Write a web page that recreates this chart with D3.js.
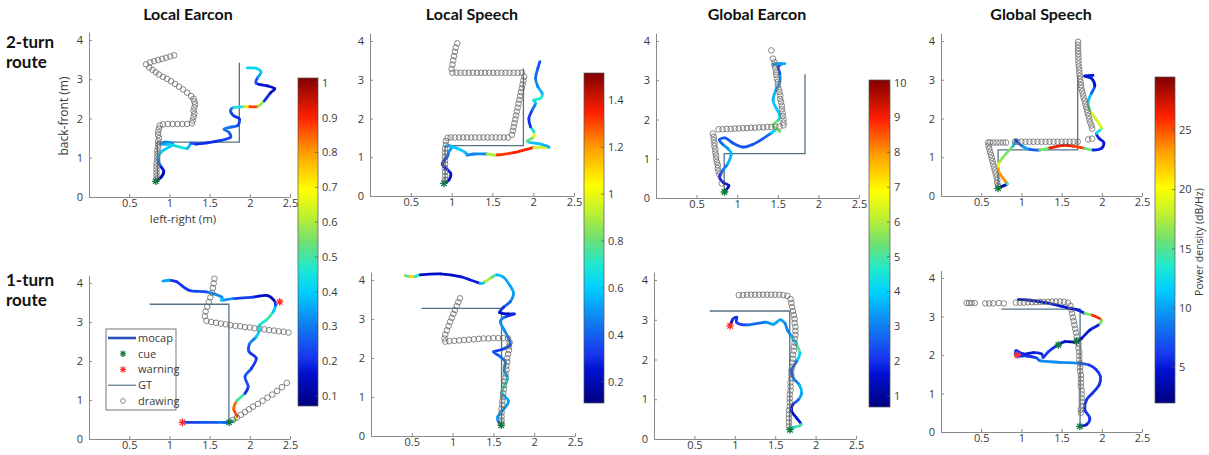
<!DOCTYPE html>
<html>
<head>
<meta charset="utf-8">
<script src="https://cdn.jsdelivr.net/npm/d3@7"></script>
<style>
  body { margin: 0; background: #fff; }
  text { font-family: "Open Sans", "Liberation Sans", sans-serif; }
</style>
</head>
<body>
<svg id="chart" width="1209" height="455"></svg>
<script>
// ---- labels / ticks ----
const titles = ["Local Earcon", "Local Speech", "Global Earcon", "Global Speech"];
const rowLabels = [["2-turn", "route"], ["1-turn", "route"]];
const xTicks = [0.5, 1, 1.5, 2, 2.5];
const yTicks = [0, 1, 2, 3, 4];
const cbTicks = [
  [0.1, 0.2, 0.3, 0.4, 0.5, 0.6, 0.7, 0.8, 0.9, 1],
  [0.2, 0.4, 0.6, 0.8, 1, 1.2, 1.4],
  [1, 2, 3, 4, 5, 6, 7, 8, 9, 10],
  [5, 10, 15, 20, 25]
];
const cbDomains = [[0.072, 1.014], [0.109, 1.517], [0.684, 10.078], [2.0, 29.49]];
const legendLabels = ["mocap", "cue", "warning", "GT", "drawing"];

// ---- 2-turn route, Local Earcon ----  mocap: [x, y, value]
const le2Mocap = [[0.83,0.40,0.1],[0.90,0.51,0.1],[0.93,0.66,0.15],[0.88,0.82,0.2],[0.86,1.01,0.38],[0.91,1.17,0.4],[1.01,1.29,0.4],[1.04,1.37,0.35],[0.95,1.40,0.3],[0.89,1.35,0.3],[0.975,1.34,0.38],[1.10,1.29,0.45],[1.22,1.24,0.45],[1.27,1.37,0.3],[1.33,1.35,0.2],[1.47,1.38,0.2],[1.64,1.44,0.2],[1.76,1.52,0.25],[1.74,1.65,0.25],[1.68,1.73,0.3],[1.76,1.78,0.3],[1.85,1.82,0.25],[1.87,1.99,0.2],[1.80,2.07,0.2],[1.76,2.20,0.25],[1.80,2.28,0.3],[1.93,2.30,0.6],[2.00,2.30,0.85],[2.10,2.31,0.9],[2.18,2.45,0.25],[2.26,2.66,0.15],[2.31,2.76,0.15],[2.22,2.83,0.15],[2.08,2.90,0.2],[2.10,3.05,0.3],[2.14,3.18,0.4],[2.08,3.28,0.42],[1.97,3.29,0.42]];
const le2Drawing = [[1.06,3.61],[1.01,3.58],[0.96,3.55],[0.91,3.52],[0.86,3.49],[0.81,3.46],[0.76,3.43],[0.71,3.38],[0.75,3.30],[0.79,3.24],[0.83,3.18],[0.87,3.12],[0.92,3.06],[0.97,3.01],[1.02,2.95],[1.07,2.88],[1.12,2.81],[1.17,2.74],[1.22,2.66],[1.27,2.57],[1.30,2.50],[1.31,2.43],[1.32,2.36],[1.31,2.28],[1.30,2.20],[1.31,2.12],[1.30,2.04],[1.29,1.95],[1.28,1.88],[1.22,1.86],[1.16,1.86],[1.10,1.86],[1.04,1.86],[0.98,1.86],[0.92,1.85],[0.88,1.82],[0.87,1.74],[0.86,1.66],[0.86,1.58],[0.87,1.50],[0.86,1.42],[0.86,1.34],[0.86,1.26],[0.85,1.18],[0.85,1.10],[0.85,1.02],[0.85,0.94],[0.84,0.86],[0.84,0.78],[0.84,0.70],[0.84,0.62],[0.84,0.54],[0.84,0.46]];
const le2GT = [[0.85,0.40],[0.85,1.40],[1.87,1.40],[1.87,3.42]];
const le2Cue = [[0.83,0.40]];
const le2Warn = [];

// ---- 2-turn route, Local Speech ----
const ls2Mocap = [[0.906,0.327,0.15],[0.967,0.413,0.2],[0.988,0.585,0.25],[0.906,0.757,0.3],[0.886,0.843,0.3],[0.947,1.015,0.35],[0.967,1.144,0.45],[1.008,1.273,0.55],[0.947,1.299,0.55],[1.069,1.230,0.6],[1.171,1.118,0.6],[1.192,1.058,0.5],[1.273,1.084,0.45],[1.437,1.084,0.5],[1.559,1.058,1.3],[1.763,1.118,1.35],[2.008,1.247,1.35],[2.192,1.256,0.55],[2.090,1.342,0.55],[1.927,1.402,0.6],[2.008,1.531,1.0],[2.008,1.660,1.0],[1.967,1.789,0.3],[1.947,2.004,0.3],[1.988,2.219,0.35],[2.029,2.391,0.55],[2.008,2.477,0.6],[2.090,2.520,0.8],[2.110,2.650,0.6],[2.057,2.822,0.5],[2.029,3.037,0.45],[2.057,3.295,0.4],[2.082,3.467,0.35]];
const ls2Drawing = [[1.07,3.94],[1.05,3.83],[1.04,3.72],[1.03,3.61],[1.02,3.50],[1.01,3.39],[1.00,3.28],[1.01,3.18],[1.06,3.18],[1.11,3.18],[1.16,3.18],[1.21,3.18],[1.26,3.18],[1.31,3.18],[1.36,3.18],[1.41,3.18],[1.46,3.18],[1.51,3.18],[1.56,3.18],[1.61,3.18],[1.66,3.18],[1.71,3.18],[1.76,3.18],[1.81,3.18],[1.86,3.18],[1.89,3.08],[1.88,2.98],[1.87,2.88],[1.86,2.78],[1.85,2.68],[1.84,2.58],[1.83,2.48],[1.82,2.38],[1.81,2.28],[1.80,2.18],[1.79,2.08],[1.78,1.98],[1.77,1.88],[1.76,1.78],[1.75,1.68],[1.74,1.58],[1.69,1.51],[1.64,1.51],[1.59,1.51],[1.54,1.51],[1.49,1.51],[1.44,1.51],[1.39,1.51],[1.34,1.51],[1.29,1.51],[1.24,1.51],[1.19,1.51],[1.14,1.51],[1.09,1.51],[1.04,1.51],[0.99,1.51],[0.95,1.50],[0.93,1.42],[0.93,1.32],[0.92,1.22],[0.92,1.12],[0.92,1.02],[0.92,0.92],[0.92,0.82],[0.92,0.72],[0.92,0.62],[0.92,0.52],[0.92,0.42]];
const ls2GT = [[0.92,0.33],[0.92,1.30],[1.88,1.30],[1.88,3.29]];
const ls2Cue = [[0.906,0.327]];
const ls2Warn = [];

// ---- 2-turn route, Global Earcon ----
const ge2Mocap = [[0.843,0.153,1.2],[0.897,0.314,1.5],[0.831,0.391,2.0],[0.781,0.535,1.5],[0.822,0.705,2.5],[0.884,0.875,3.5],[0.926,1.130,3.8],[0.884,1.257,3.5],[0.822,1.367,3.0],[0.781,1.486,2.5],[0.855,1.529,2.5],[0.946,1.401,2.5],[1.070,1.299,2.5],[1.194,1.367,2.5],[1.318,1.512,2.5],[1.421,1.656,3.0],[1.483,1.741,5.0],[1.525,1.699,5.0],[1.442,1.851,6.0],[1.504,1.979,5.0],[1.525,2.106,4.0],[1.483,2.276,4.0],[1.442,2.488,3.8],[1.475,2.743,3.5],[1.525,2.955,3.5],[1.525,3.168,3.0],[1.504,3.338,2.0],[1.545,3.423,2.0],[1.442,3.406,3.5],[1.587,3.423,3.5]];
const ge2Drawing = [[1.42,3.76],[1.44,3.55],[1.46,3.46],[1.46,3.38],[1.47,3.30],[1.48,3.21],[1.48,3.13],[1.49,3.04],[1.50,2.96],[1.50,2.87],[1.51,2.78],[1.52,2.70],[1.53,2.61],[1.53,2.52],[1.54,2.44],[1.55,2.35],[1.55,2.26],[1.56,2.18],[1.56,2.09],[1.57,2.00],[1.57,1.92],[1.57,1.85],[1.52,1.82],[1.47,1.82],[1.42,1.81],[1.37,1.81],[1.32,1.80],[1.27,1.80],[1.22,1.79],[1.17,1.79],[1.12,1.78],[1.07,1.78],[1.02,1.77],[0.97,1.77],[0.92,1.76],[0.87,1.76],[0.82,1.75],[0.77,1.75],[0.70,1.64],[0.71,1.56],[0.71,1.48],[0.72,1.40],[0.72,1.32],[0.73,1.24],[0.73,1.16],[0.74,1.08],[0.74,1.00],[0.75,0.92],[0.76,0.84],[0.76,0.76],[0.77,0.68],[0.78,0.60],[0.81,0.37]];
const ge2GT = [[0.84,0.15],[0.84,1.13],[1.835,1.13],[1.835,3.15]];
const ge2Cue = [[0.843,0.153]];
const ge2Warn = [];

// ---- 2-turn route, Global Speech ----
const gs2Mocap = [[0.710,0.198,3],[0.751,0.241,3],[0.822,0.310,5],[0.805,0.370,23],[0.730,0.585,24],[0.710,0.757,22],[0.730,0.886,17],[0.813,1.101,16],[0.896,1.290,16],[0.929,1.445,6],[0.959,1.376,5],[1.021,1.273,11],[1.104,1.204,9],[1.228,1.187,6],[1.353,1.239,26],[1.519,1.308,27],[1.643,1.290,26],[1.788,1.230,25],[1.892,1.187,6],[1.996,1.230,5],[2.025,1.376,5],[1.967,1.488,5],[1.934,1.617,6],[1.996,1.746,19],[1.934,1.961,19],[1.851,2.219,18],[1.830,2.434,12],[1.871,2.650,10],[1.913,2.839,5],[1.871,3.037,5],[1.788,3.097,5],[1.892,3.114,5]];
const gs2Drawing = [[1.705,3.98],[1.705,3.90],[1.705,3.82],[1.705,3.74],[1.708,3.66],[1.71,3.58],[1.71,3.50],[1.71,3.42],[1.715,3.34],[1.72,3.26],[1.72,3.18],[1.725,3.10],[1.73,3.02],[1.735,2.94],[1.74,2.86],[1.745,2.78],[1.755,2.70],[1.765,2.62],[1.775,2.54],[1.785,2.46],[1.795,2.38],[1.805,2.30],[1.815,2.22],[1.825,2.14],[1.835,2.06],[1.845,1.98],[1.855,1.90],[1.87,1.82],[1.88,1.74],[1.83,1.46],[1.88,1.48],[1.70,1.40],[1.65,1.40],[1.60,1.40],[1.55,1.40],[1.50,1.40],[1.45,1.40],[1.40,1.40],[1.35,1.40],[1.30,1.40],[1.25,1.40],[1.20,1.40],[1.15,1.40],[1.10,1.40],[1.05,1.40],[1.00,1.40],[0.95,1.40],[0.92,1.40],[0.81,1.38],[0.77,1.38],[0.73,1.38],[0.69,1.38],[0.65,1.38],[0.61,1.38],[0.585,1.38],[0.59,1.30],[0.60,1.22],[0.61,1.14],[0.62,1.06],[0.63,0.98],[0.64,0.90],[0.65,0.82],[0.66,0.74],[0.67,0.66],[0.68,0.58],[0.69,0.50],[0.70,0.42],[0.70,0.34],[0.71,0.26]];
const gs2GT = [[0.71,0.20],[0.71,1.19],[1.70,1.19],[1.70,3.10]];
const gs2Cue = [[0.71,0.198]];
const gs2Warn = [];

// ---- 1-turn route, Local Earcon ----
const le1Mocap = [[1.162,0.426,0.2],[1.378,0.426,0.25],[1.585,0.426,0.25],[1.743,0.426,0.3],[1.813,0.477,0.35],[1.842,0.579,0.85],[1.80,0.77,0.88],[1.84,0.98,0.8],[1.94,1.17,0.2],[1.98,1.35,0.2],[1.94,1.60,0.28],[2.02,1.81,0.22],[2.08,2.07,0.2],[1.99,2.24,0.2],[2.00,2.45,0.28],[2.08,2.62,0.35],[2.12,2.79,0.45],[2.12,2.92,0.42],[2.21,3.06,0.5],[2.29,3.26,0.48],[2.32,3.43,0.3],[2.30,3.56,0.15],[2.21,3.68,0.12],[2.04,3.64,0.2],[1.79,3.60,0.25],[1.65,3.56,0.4],[1.65,3.64,0.38],[1.46,3.77,0.25],[1.25,3.81,0.22],[1.09,4.03,0.2],[1.00,4.07,0.2],[0.92,4.05,0.5]];
const le1Drawing = [[1.79,0.49],[1.84,0.55],[1.89,0.62],[1.94,0.69],[1.99,0.76],[2.04,0.83],[2.10,0.90],[2.16,0.98],[2.22,1.06],[2.28,1.14],[2.34,1.23],[2.40,1.33],[2.46,1.44],[2.48,2.73],[2.42,2.75],[2.36,2.76],[2.30,2.78],[2.24,2.79],[2.18,2.81],[2.12,2.83],[2.06,2.84],[2.00,2.86],[1.94,2.87],[1.88,2.89],[1.82,2.90],[1.76,2.92],[1.70,2.94],[1.64,2.96],[1.58,2.98],[1.52,3.00],[1.46,3.03],[1.44,3.15],[1.45,3.27],[1.47,3.39],[1.49,3.51],[1.51,3.63],[1.53,3.75],[1.54,3.87],[1.55,3.99],[1.56,4.11]];
const le1GT = [[1.74,0.43],[1.74,3.455],[0.755,3.455]];
const le1Cue = [[1.743,0.426]];
const le1Warn = [[1.162,0.426],[2.373,3.515]];

// ---- 1-turn route, Local Speech ----
const ls1Mocap = [[0.420,4.113,0.5],[0.482,4.087,1.1],[0.543,4.087,1.1],[0.604,4.130,0.25],[0.849,4.156,0.2],[1.094,4.087,0.25],[1.339,3.916,0.3],[1.400,3.959,0.85],[1.482,4.070,0.95],[1.543,4.130,0.55],[1.624,4.070,0.55],[1.698,3.873,0.5],[1.747,3.659,0.55],[1.706,3.445,0.45],[1.624,3.299,0.35],[1.576,3.162,0.25],[1.686,3.128,0.25],[1.755,3.128,0.2],[1.633,3.042,0.4],[1.584,2.931,0.5],[1.633,2.716,0.5],[1.686,2.502,0.45],[1.706,2.331,0.4],[1.604,2.219,0.3],[1.502,2.159,0.35],[1.576,2.048,0.4],[1.645,1.902,0.45],[1.633,1.688,0.5],[1.673,1.474,0.55],[1.633,1.302,0.85],[1.604,1.088,0.6],[1.686,0.900,0.5],[1.633,0.703,0.5],[1.551,0.488,0.5],[1.563,0.360,0.55],[1.596,0.274,0.3]];
const ls1Drawing = [[1.09,3.53],[1.07,3.43],[1.05,3.33],[1.03,3.23],[1.01,3.13],[0.99,3.03],[0.97,2.93],[0.95,2.82],[0.93,2.71],[0.91,2.60],[0.90,2.50],[0.91,2.42],[0.96,2.43],[1.02,2.44],[1.08,2.45],[1.14,2.46],[1.20,2.47],[1.26,2.48],[1.32,2.49],[1.38,2.50],[1.44,2.50],[1.50,2.51],[1.56,2.51],[1.62,2.51],[1.68,2.50],[1.70,2.40],[1.69,2.30],[1.69,2.20],[1.68,2.10],[1.67,2.00],[1.67,1.90],[1.66,1.80],[1.66,1.70],[1.65,1.60],[1.65,1.50],[1.64,1.40],[1.63,1.30],[1.63,1.20],[1.62,1.10],[1.62,1.00],[1.61,0.90],[1.61,0.80],[1.60,0.70],[1.60,0.60],[1.60,0.50],[1.60,0.40],[1.60,0.32]];
const ls1GT = [[1.60,0.27],[1.60,3.27],[0.62,3.27]];
const ls1Cue = [[1.596,0.274]];
const ls1Warn = [];

// ---- 1-turn route, Global Earcon ----
const ge1Mocap = [[0.942,2.845,1.5],[0.975,3.013,2],[1.025,3.063,2],[1.025,2.929,2],[1.148,2.870,2.5],[1.374,2.937,3],[1.477,2.887,3.5],[1.560,2.996,3.5],[1.621,2.912,3.2],[1.650,2.745,3],[1.704,2.577,3],[1.765,2.368,5],[1.807,2.159,5],[1.765,1.950,3],[1.704,1.741,2.5],[1.724,1.531,2.5],[1.798,1.364,3.5],[1.827,1.155,3.8],[1.786,0.987,3],[1.716,0.862,2],[1.704,0.695,1.2],[1.765,0.527,1.5],[1.819,0.360,2],[1.745,0.301,8],[1.683,0.234,1]];
const ge1Drawing = [[1.05,3.62],[1.10,3.62],[1.15,3.63],[1.20,3.63],[1.25,3.63],[1.30,3.63],[1.35,3.63],[1.40,3.63],[1.45,3.63],[1.50,3.63],[1.55,3.63],[1.60,3.62],[1.65,3.60],[1.69,3.52],[1.70,3.42],[1.71,3.32],[1.72,3.22],[1.73,3.12],[1.74,3.02],[1.74,2.92],[1.75,2.82],[1.75,2.72],[1.75,2.62],[1.74,2.52],[1.74,2.42],[1.73,2.32],[1.73,2.22],[1.72,2.12],[1.72,2.02],[1.71,1.92],[1.71,1.82],[1.70,1.72],[1.70,1.62],[1.70,1.52],[1.69,1.42],[1.69,1.32],[1.69,1.22],[1.68,1.12],[1.68,1.02],[1.68,0.92],[1.68,0.82],[1.67,0.72],[1.67,0.62],[1.67,0.52],[1.67,0.42],[1.67,0.32]];
const ge1GT = [[1.68,0.23],[1.68,3.22],[0.69,3.22]];
const ge1Cue = [[1.683,0.234]];
const ge1Warn = [[0.942,2.845]];

// ---- 1-turn route, Global Speech ----
const gs1Mocap = [[0.963,3.440,3.5],[1.107,3.422,5],[1.314,3.353,5],[1.562,3.233,5],[1.707,3.164,5],[1.789,3.078,6],[1.884,3.034,26],[1.996,2.905,26],[1.955,2.776,6],[1.851,2.647,5],[1.748,2.431,5],[1.686,2.336,3],[1.541,2.345,4],[1.438,2.241,6],[1.335,2.086,6],[1.273,1.940,6],[1.252,2.026,6],[1.149,2.060,5],[1.025,2.026,5],[0.934,2.112,6],[0.942,1.974,6],[1.066,1.974,6],[1.190,1.922,6],[1.240,1.845,9],[1.479,1.810,9.5],[1.727,1.784,9],[1.843,1.741,6],[1.926,1.629,6],[1.983,1.440,6],[1.967,1.224,6],[1.884,1.009,6],[1.810,0.836,6],[1.789,0.578,6],[1.851,0.362,6],[1.810,0.190,6],[1.727,0.147,4]];
const gs1Drawing = [[0.32,3.35],[0.35,3.35],[0.38,3.35],[0.42,3.35],[0.55,3.34],[0.60,3.34],[0.65,3.34],[0.72,3.35],[0.78,3.34],[0.93,3.36],[0.98,3.36],[1.03,3.36],[1.08,3.37],[1.13,3.37],[1.18,3.37],[1.23,3.38],[1.28,3.38],[1.33,3.38],[1.38,3.39],[1.43,3.39],[1.48,3.39],[1.53,3.38],[1.58,3.36],[1.61,3.28],[1.62,3.18],[1.63,3.08],[1.64,2.98],[1.65,2.88],[1.66,2.78],[1.67,2.68],[1.68,2.58],[1.69,2.48],[1.70,2.38],[1.71,2.28],[1.71,2.18],[1.72,2.08],[1.72,1.98],[1.72,1.88],[1.73,1.78],[1.73,1.68],[1.73,1.58],[1.74,1.48],[1.74,1.38],[1.74,1.28],[1.74,1.18],[1.75,1.08],[1.75,0.98],[1.75,0.88],[1.75,0.78],[1.75,0.68],[1.74,0.58],[1.74,0.50]];
const gs1GT = [[1.73,0.15],[1.73,3.19],[0.75,3.19]];
const gs1Cue = [[1.727,0.147],[1.686,2.36],[1.459,2.259]];
const gs1Warn = [[0.95,2.0]];

// ---- layout (pixels) ----
const panelBoxes = [
  {x0: 89,  x1: 290, y0: 197, y4: 40},
  {x0: 370, x1: 574, y0: 196, y4: 41},
  {x0: 656, x1: 859, y0: 198, y4: 41},
  {x0: 941, x1: 1142, y0: 196, y4: 41},
  {x0: 89,  x1: 290, y0: 439, y4: 283},
  {x0: 371, x1: 575, y0: 436, y4: 280},
  {x0: 654, x1: 856, y0: 439, y4: 280},
  {x0: 941, x1: 1142, y0: 432, y4: 278}
];
const cbBoxes = [
  {x: 298, w: 20, top: 78, bottom: 406},
  {x: 584, w: 20, top: 73, bottom: 403},
  {x: 869, w: 21, top: 80, bottom: 407},
  {x: 1155, w: 20, top: 77, bottom: 403}
];
const titleX = [188, 472, 757, 1041];

const panels = [
  {col: 0, row: 0, mocap: le2Mocap, drawing: le2Drawing, gt: le2GT, cue: le2Cue, warn: le2Warn},
  {col: 1, row: 0, mocap: ls2Mocap, drawing: ls2Drawing, gt: ls2GT, cue: ls2Cue, warn: ls2Warn},
  {col: 2, row: 0, mocap: ge2Mocap, drawing: ge2Drawing, gt: ge2GT, cue: ge2Cue, warn: ge2Warn},
  {col: 3, row: 0, mocap: gs2Mocap, drawing: gs2Drawing, gt: gs2GT, cue: gs2Cue, warn: gs2Warn},
  {col: 0, row: 1, mocap: le1Mocap, drawing: le1Drawing, gt: le1GT, cue: le1Cue, warn: le1Warn},
  {col: 1, row: 1, mocap: ls1Mocap, drawing: ls1Drawing, gt: ls1GT, cue: ls1Cue, warn: ls1Warn},
  {col: 2, row: 1, mocap: ge1Mocap, drawing: ge1Drawing, gt: ge1GT, cue: ge1Cue, warn: ge1Warn},
  {col: 3, row: 1, mocap: gs1Mocap, drawing: gs1Drawing, gt: gs1GT, cue: gs1Cue, warn: gs1Warn}
];

// jet-like colormap
const cmapPos = [0, 0.1, 0.15, 0.25, 0.35, 0.42, 0.5, 0.58, 0.66, 0.77, 0.88, 1];
const cmapCol = ["#000080", "#0010d0", "#1838f0", "#1080f0", "#00d0ff", "#20e8d0", "#70e070", "#c0f030", "#ffff00", "#ffa000", "#ff2000", "#800000"];
const cmap = d3.scaleLinear().domain(cmapPos).range(cmapCol).clamp(true);

const axisGrey = "#8a8a8a";
const textGrey = "#3a3a3a";
const gtColor = "#557388";

const svg = d3.select("#chart");
const defs = svg.append("defs");

function star(s) {
  const k = s * 0.72;
  return `M${-s},0H${s}M0,${-s}V${s}M${-k},${-k}L${k},${k}M${-k},${k}L${k},${-k}`;
}

// titles and row labels
svg.selectAll(".title").data(titles).join("text")
  .attr("x", (d, i) => titleX[i]).attr("y", 20)
  .attr("text-anchor", "middle")
  .style("font-family", "Lato, 'Open Sans', sans-serif")
  .style("font-weight", "700").style("font-size", "16px").attr("fill", "#111")
  .text(d => d);

rowLabels.forEach((lab, r) => {
  const base = r === 0 ? 48 : 286;
  lab.forEach((t, j) => {
    svg.append("text").attr("x", 6).attr("y", base + j * 20)
      .style("font-family", "Lato, 'Open Sans', sans-serif")
      .style("font-weight", "700").style("font-size", "17px").attr("fill", "#111")
      .text(t);
  });
});

// panels
panels.forEach((p, idx) => {
  const b = panelBoxes[idx];
  const unit = (b.y0 - b.y4) / 4;
  const x = d3.scaleLinear().domain([0, 2.5]).range([b.x0, b.x1]);
  const y = d3.scaleLinear().domain([0, 4.2]).range([b.y0, b.y0 - 4.2 * unit]);
  const cs = d3.scaleLinear().domain(cbDomains[p.col]).range([0, 1]);
  const g = svg.append("g");

  const xa = g.append("g").attr("transform", `translate(0,${b.y0})`)
    .call(d3.axisBottom(x).tickValues(xTicks).tickFormat(d3.format(""))
      .tickSizeInner(-3).tickSizeOuter(0).tickPadding(2));
  const ya = g.append("g").attr("transform", `translate(${b.x0},0)`)
    .call(d3.axisLeft(y).tickValues(yTicks).tickFormat(d3.format("d"))
      .tickSizeInner(-3).tickSizeOuter(0).tickPadding(6));
  [xa, ya].forEach(a => {
    a.select(".domain").attr("stroke", axisGrey);
    a.selectAll(".tick line").attr("stroke", axisGrey);
    a.selectAll(".tick text").attr("fill", textGrey).style("font-size", "11px")
      .style("font-family", "'Open Sans', sans-serif");
  });

  // ground truth route
  g.append("path").datum(p.gt)
    .attr("fill", "none").attr("stroke", gtColor).attr("stroke-width", 1.3)
    .attr("d", d3.line().x(d => x(d[0])).y(d => y(d[1])));

  // mocap trajectory: smooth Catmull-Rom pieces, each coloured by its value
  const pts = p.mocap.map(d => [x(d[0]), y(d[1]), d[2]]);
  const n = pts.length;
  const pieces = d3.range(n - 1).map(i => {
    const p0 = pts[Math.max(i - 1, 0)], p1 = pts[i], p2 = pts[i + 1], p3 = pts[Math.min(i + 2, n - 1)];
    const c1 = [p1[0] + (p2[0] - p0[0]) / 6, p1[1] + (p2[1] - p0[1]) / 6];
    const c2 = [p2[0] - (p3[0] - p1[0]) / 6, p2[1] - (p3[1] - p1[1]) / 6];
    return {d: `M${p1[0]},${p1[1]}C${c1[0]},${c1[1]} ${c2[0]},${c2[1]} ${p2[0]},${p2[1]}`, v: (p1[2] + p2[2]) / 2};
  });
  g.selectAll(".seg").data(pieces).join("path")
    .attr("d", d => d.d).attr("fill", "none")
    .attr("stroke", d => cmap(cs(d.v)))
    .attr("stroke-width", 2.8).attr("stroke-linecap", "round");

  // drawing
  g.selectAll(".drw").data(p.drawing).join("circle")
    .attr("cx", d => x(d[0])).attr("cy", d => y(d[1])).attr("r", 2.8)
    .attr("fill", "none").attr("stroke", "#6a6a6a").attr("stroke-width", 0.8);

  // cue / warning stars
  g.selectAll(".cue").data(p.cue).join("path")
    .attr("transform", d => `translate(${x(d[0])},${y(d[1])})`)
    .attr("d", star(3.8)).attr("stroke", "#127a3c").attr("stroke-width", 1.3).attr("fill", "none");
  g.selectAll(".warn").data(p.warn).join("path")
    .attr("transform", d => `translate(${x(d[0])},${y(d[1])})`)
    .attr("d", star(3.8)).attr("stroke", "#ff3030").attr("stroke-width", 1.3).attr("fill", "none");
});

// axis labels (first panel only)
svg.append("text").attr("transform", "translate(68,116) rotate(-90)")
  .attr("text-anchor", "middle").attr("fill", textGrey).style("font-size", "12px")
  .text("back-front (m)");
svg.append("text").attr("x", 183).attr("y", 223)
  .attr("text-anchor", "middle").attr("fill", textGrey).style("font-size", "11.5px")
  .text("left-right (m)");

// colorbars
const grad = defs.append("linearGradient").attr("id", "jet")
  .attr("x1", 0).attr("y1", 1).attr("x2", 0).attr("y2", 0);
cmapPos.forEach((t, i) => grad.append("stop").attr("offset", t).attr("stop-color", cmapCol[i]));

cbBoxes.forEach((c, i) => {
  const s = d3.scaleLinear().domain(cbDomains[i]).range([c.bottom, c.top]);
  const g = svg.append("g");
  g.append("rect").attr("x", c.x).attr("y", c.top).attr("width", c.w).attr("height", c.bottom - c.top)
    .attr("fill", "url(#jet)").attr("stroke", "#555").attr("stroke-width", 0.7);
  g.selectAll(".tk").data(cbTicks[i]).join("line")
    .attr("x1", c.x + c.w - 3).attr("x2", c.x + c.w)
    .attr("y1", d => s(d)).attr("y2", d => s(d))
    .attr("stroke", "#555").attr("stroke-width", 0.7);
  g.selectAll(".tl").data(cbTicks[i]).join("text")
    .attr("x", c.x + c.w + 4).attr("y", d => s(d)).attr("dy", "0.35em")
    .attr("fill", textGrey).style("font-size", "11px")
    .text(d => d3.format("")(d));
});
svg.append("text").attr("transform", "translate(1203,242) rotate(-90)")
  .attr("text-anchor", "middle").attr("fill", textGrey).style("font-size", "10.5px")
  .text("Power density (dB/Hz)");

// legend in bottom-left panel
const lg = svg.append("g");
lg.append("rect").attr("x", 106).attr("y", 329).attr("width", 70).attr("height", 81)
  .attr("fill", "#fff").attr("stroke", "#555").attr("stroke-width", 0.8);
const rowY = d3.scalePoint().domain(legendLabels).range([338, 401]);
legendLabels.forEach(lab => {
  const yy = rowY(lab);
  if (lab === "mocap") {
    lg.append("line").attr("x1", 108).attr("x2", 136).attr("y1", yy).attr("y2", yy)
      .attr("stroke", "#2c4fbf").attr("stroke-width", 2.6);
  } else if (lab === "GT") {
    lg.append("line").attr("x1", 108).attr("x2", 136).attr("y1", yy).attr("y2", yy)
      .attr("stroke", gtColor).attr("stroke-width", 1.2);
  } else if (lab === "drawing") {
    lg.append("circle").attr("cx", 123).attr("cy", yy).attr("r", 2.4)
      .attr("fill", "none").attr("stroke", "#6f6f6f").attr("stroke-width", 0.8);
  } else {
    lg.append("path").attr("transform", `translate(123,${yy})`).attr("d", star(3.2))
      .attr("stroke", lab === "cue" ? "#127a3c" : "#ff3030").attr("stroke-width", 1.2);
  }
  lg.append("text").attr("x", 138).attr("y", yy).attr("dy", "0.35em")
    .attr("fill", textGrey).style("font-size", "11px").text(lab);
});
</script>
</body>
</html>
